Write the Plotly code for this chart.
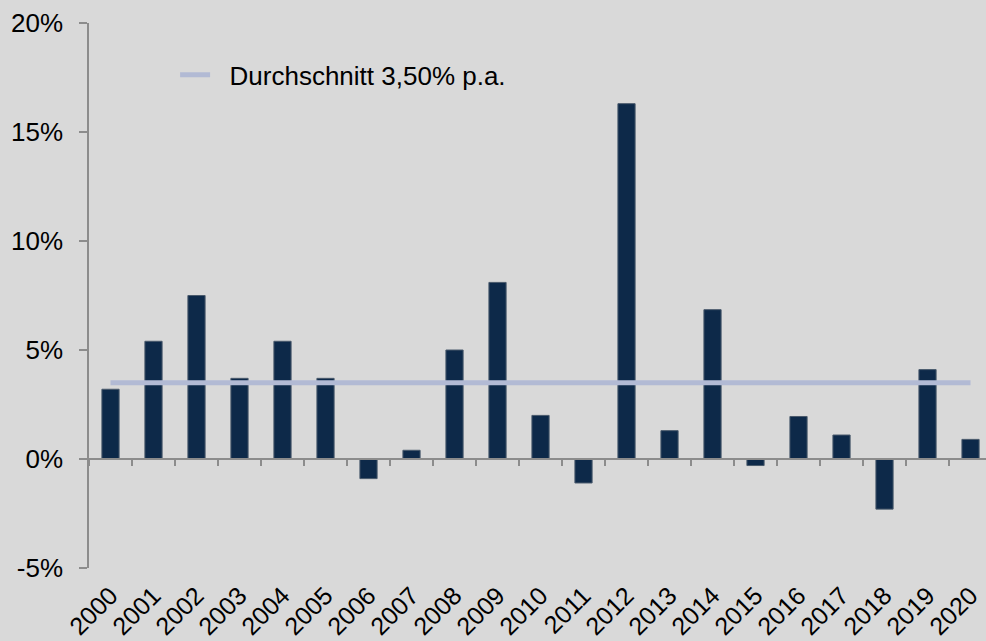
import plotly.graph_objects as go

years = [str(y) for y in range(2000, 2021)]
returns = [3.2, 5.4, 7.5, 3.7, 5.4, 3.7, -0.9, 0.4, 5.0, 8.1, 2.0,
           -1.1, 16.3, 1.3, 6.85, -0.3, 1.95, 1.1, -2.3, 4.1, 0.9]
average = 3.5
avg_label = "\u00a0\u00a0Durchschnitt 3,50% p.a."
y_tickvals = [-5, 0, 5, 10, 15, 20]
y_ticktext = ["-5%", "0%", "5%", "10%", "15%", "20%"]

FONT = "Arial, 'Liberation Sans', sans-serif"
AXIS_GRAY = "#8c8c8c"
BG = "#d9d9d9"

fig = go.Figure()
fig.add_trace(go.Bar(
    x=years, y=returns, width=0.4,
    marker=dict(color="#0d2949", line=dict(color="#4a5a6c", width=1)),
    showlegend=False, hoverinfo="skip",
))
fig.add_trace(go.Scatter(
    x=years, y=[average] * len(years), mode="lines",
    line=dict(color="#b2bad4", width=5),
    name=avg_label, showlegend=True,
))
# invisible helper trace for the zero axis with boundary ticks
fig.add_trace(go.Scatter(
    x=years, y=[0] * len(years), xaxis="x2", mode="markers",
    marker=dict(opacity=0), showlegend=False, hoverinfo="skip",
))

xrange = [-0.5, 20.36]
fig.update_layout(
    width=986, height=641,
    margin=dict(l=89, r=0, t=23, b=73, autoexpand=False),
    paper_bgcolor=BG, plot_bgcolor=BG,
    font=dict(family=FONT, color="#000000", size=26),
    bargap=0.6,
    showlegend=True,
    legend=dict(x=0.096, y=0.905, xanchor="left", yanchor="middle",
                bgcolor="rgba(0,0,0,0)", font=dict(size=26, family=FONT)),
    xaxis=dict(type="category", categoryorder="array", categoryarray=years,
               range=xrange, showline=False, ticks="", showgrid=False,
               zeroline=False, tickangle=-45, tickfont=dict(size=25),
               ticklabelstandoff=7, automargin=False),
    xaxis2=dict(type="category", categoryorder="array", categoryarray=years,
                range=xrange, overlaying="x", anchor="free", position=0.2,
                showline=True, linecolor=AXIS_GRAY, linewidth=1.5,
                ticks="outside", tickson="boundaries", ticklen=6,
                tickcolor=AXIS_GRAY, tickwidth=1.5, automargin=False,
                showticklabels=False, showgrid=False, zeroline=False),
    yaxis=dict(range=[-5, 20], tickvals=y_tickvals, ticktext=y_ticktext,
               showline=True, linecolor=AXIS_GRAY, linewidth=1.5,
               ticks="outside", ticklen=8, tickcolor=AXIS_GRAY, tickwidth=1.5,
               showgrid=False, zeroline=False, tickfont=dict(size=26),
               ticklabelstandoff=11, automargin=False),
)

fig.write_html(
    "out.html",
    config={"displayModeBar": False},
    post_script="document.body.style.margin='0';"
                "document.body.style.background='" + BG + "';",
)
